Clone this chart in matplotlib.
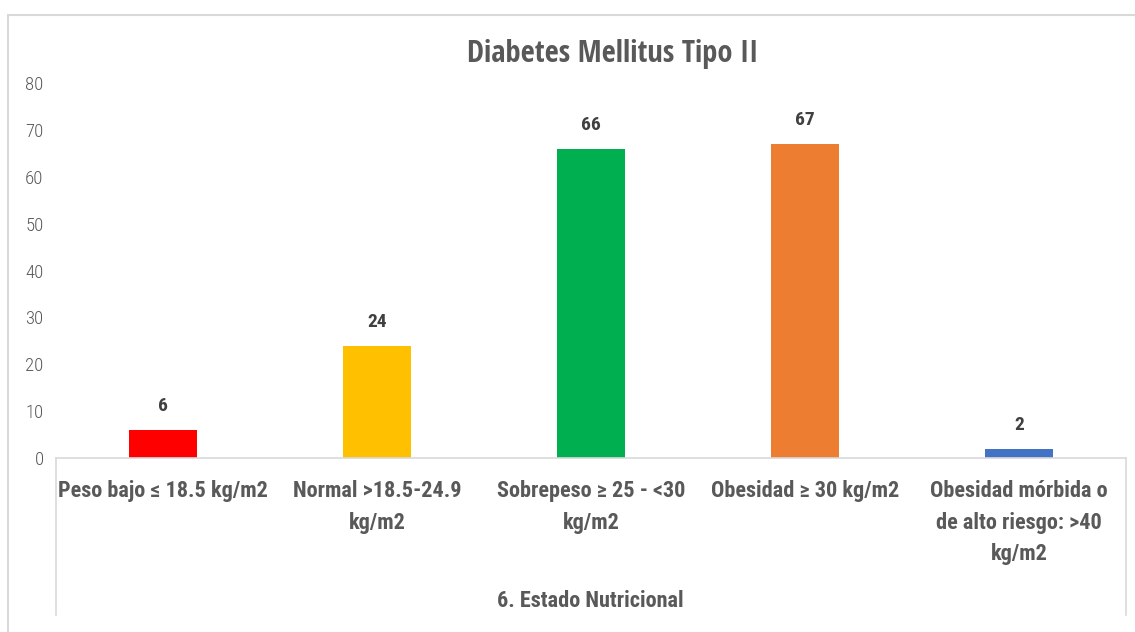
import matplotlib
matplotlib.use("Agg")
import matplotlib.pyplot as plt
from matplotlib.lines import Line2D
from matplotlib.patches import Rectangle

categories = ["Peso bajo ≤ 18.5 kg/m2", "Normal >18.5-24.9\nkg/m2", "Sobrepeso ≥ 25 - <30\nkg/m2",
              "Obesidad ≥ 30 kg/m2", "Obesidad mórbida o\nde alto riesgo: >40\nkg/m2"]
values = [6, 24, 66, 67, 2]
colors = ["#ff0000", "#ffc000", "#00b050", "#ed7d31", "#4472c4"]
yticks = [0, 10, 20, 30, 40, 50, 60, 70, 80]
title = "Diabetes Mellitus Tipo II"
group_label = "6. Estado Nutricional"

W, H = 1135, 632
fig = plt.figure(figsize=(W / 100, H / 100), dpi=100)
cond = ["Roboto Condensed", "DejaVu Sans"]
ttl = ["Open Sans Condensed", "Roboto Condensed", "DejaVu Sans"]

def fx(px):
    return px / W

def fy(py):
    return 1 - py / H

# chart frame
fig.patches.append(Rectangle((fx(8), fy(640)), fx(1200), fy(15) - fy(640), transform=fig.transFigure,
                             fill=False, edgecolor="#d9d9d9", linewidth=1.5))

ax = fig.add_axes([fx(56), fy(458), fx(1126) - fx(56), fy(83) - fy(458)])
x = list(range(len(values)))
ax.bar(x, values, width=0.32, color=colors)
ax.set_xlim(-0.5, len(values) - 0.5)
ax.set_ylim(0, 80)
ax.set_yticks(yticks)
ax.set_yticklabels([str(t) for t in yticks], family=cond, fontweight="light", fontsize=13.5, color="#595959")
ax.tick_params(axis="y", length=0, pad=9)
ax.set_xticks([])
for s in ["top", "right", "left"]:
    ax.spines[s].set_visible(False)
ax.spines["bottom"].set_color("#d9d9d9")
ax.spines["bottom"].set_linewidth(1.2)

for xi, v in zip(x, values):
    ax.annotate(str(v), (xi, v), xytext=(0, 17), textcoords="offset points", ha="center", va="center",
                family=cond, fontweight="bold", fontsize=14, color="#404040")

for xi, lab in zip(x, categories):
    ax.annotate(lab, (xi, 0), xytext=(0, -16), textcoords="offset points", ha="center", va="top",
                family=cond, fontweight="bold", fontsize=16, color="#595959", linespacing=1.55,
                annotation_clip=False)

# multi-level category boundaries
for px in (56, 1126):
    fig.add_artist(Line2D([fx(px), fx(px)], [fy(458), fy(615)], transform=fig.transFigure,
                          color="#d9d9d9", linewidth=1.2))

fig.text(fx(590), fy(601), group_label, ha="center", va="center", family=cond,
         fontweight="bold", fontsize=16, color="#595959")
fig.text(fx(613), fy(54), title, ha="center", va="center", family=ttl,
         fontweight="semibold", fontsize=22, color="#595959")

fig.savefig("out.png", dpi=100)
